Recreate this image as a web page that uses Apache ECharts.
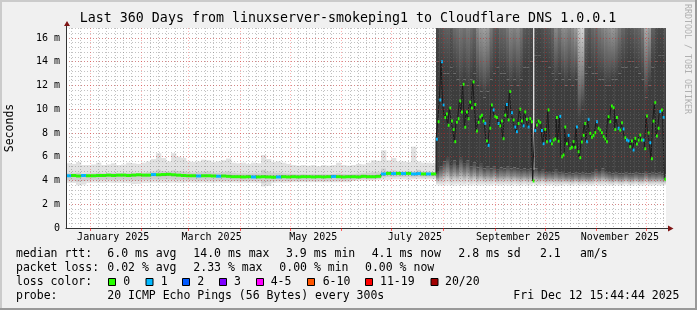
<!DOCTYPE html>
<html>
<head>
<meta charset="utf-8">
<script src="https://cdn.jsdelivr.net/npm/echarts@6.0.0/dist/echarts.min.js"></script>
<style>
html,body{margin:0;padding:0;background:#f0f0f0;}
#chart{width:697px;height:310px;}
</style>
</head>
<body>
<div id="chart"></div>
<script>
const FONT = '"DejaVu Sans Mono", monospace';
const START = Date.UTC(2024, 11, 17, 15, 44, 44);
const DAY = 86400000;
const SPAN = 360;
const Y_TOP = 16.84;
function dayOf(y, m, d) { return (Date.UTC(y, m, d) - START) / DAY; }

// ---- period 1: 3-day samples from day 0 ----
const P1_STEP = 3;
const p1Median = [4.40,4.42,4.38,4.42,4.40,4.40,4.42,4.42,4.45,4.42,
 4.45,4.45,4.42,4.45,4.48,4.45,4.45,4.50,4.48,4.50,
 4.52,4.48,4.45,4.42,4.40,4.40,4.38,4.40,4.40,4.38,
 4.36,4.38,4.35,4.32,4.32,4.30,4.32,4.30,4.30,4.32,
 4.30,4.28,4.30,4.32,4.30,4.32,4.30,4.32,4.32,4.30,
 4.32,4.30,4.32,4.34,4.32,4.30,4.32,4.32,4.30,4.35,
 4.32,4.32,4.35,4.55,4.60,4.58,4.60,4.58,4.60,4.55,
 4.58,4.55,4.55,4.55];
const p1Loss = [1,0,0,1,0,0,0,0,0,0, 0,0,0,0,0,0,0,1,0,0, 0,0,0,0,0,0,1,0,0,0,
 1,0,0,0,0,0,0,1,0,0, 0,0,1,0,0,0,0,0,0,0, 0,0,0,1,0,0,0,0,0,0,
 0,0,0,1,0,1,0,1,0,1, 1,0,1,0];
const p1SmokeLo = [3.80,3.80,3.60,3.65,3.80,3.82,3.80,3.80,3.82,3.80,
 3.80,3.80,3.78,3.70,3.72,3.80,3.80,3.82,3.80,3.80,
 3.80,3.82,3.80,3.80,3.82,3.80,3.80,3.82,3.80,3.80,
 3.82,3.80,3.80,3.82,3.80,3.82,3.80,3.80,3.78,3.50,
 3.55,3.80,3.82,3.80,3.82,3.85,3.85,3.85,3.85,3.85,
 3.85,3.85,3.85,3.85,3.85,3.85,3.85,3.95,4.00,4.00,
 4.00,4.00,4.05,4.05,4.05,4.10,4.10,4.10,4.05,4.10,
 4.10,4.10,4.10,4.10];
const p1SmokeInLo = [4.02,4.00,3.90,3.95,4.02,4.05,4.02,4.05,4.05,4.02,
 4.05,4.05,4.02,4.00,4.00,4.05,4.05,4.08,4.05,4.08,
 4.08,4.05,4.05,4.05,4.02,4.02,4.00,4.02,4.02,4.00,
 4.00,4.00,4.00,3.98,3.98,3.95,3.98,3.95,3.95,3.80,
 3.85,3.95,3.98,3.98,3.95,3.98,3.98,3.98,4.00,3.98,
 4.00,3.98,4.00,4.00,4.00,3.98,4.00,4.05,4.10,4.10,
 4.10,4.10,4.12,4.25,4.30,4.28,4.30,4.28,4.28,4.25,
 4.28,4.25,4.25,4.25];
const p1SmokeInHi = [4.60,4.60,4.65,4.55,4.58,4.60,4.65,4.60,4.62,4.65,
 4.60,4.62,4.65,4.65,4.62,4.65,4.70,4.75,4.90,4.80,
 4.75,4.85,4.80,4.75,4.70,4.65,4.70,4.75,4.75,4.65,
 4.65,4.70,4.75,4.65,4.60,4.60,4.58,4.60,4.60,4.90,
 4.75,4.65,4.65,4.60,4.58,4.55,4.52,4.55,4.52,4.55,
 4.52,4.55,4.52,4.55,4.60,4.55,4.52,4.55,4.58,4.60,
 4.65,4.70,4.70,5.00,4.80,4.85,4.75,4.75,4.75,4.75,
 4.90,4.75,4.75,4.70];
const p1SmokeHi = [5.45,5.40,5.55,5.30,5.30,5.35,5.50,5.30,5.35,5.45,
 5.30,5.35,5.50,5.45,5.40,5.50,5.60,5.80,6.30,5.90,
 5.60,6.30,6.00,5.90,5.60,5.55,5.60,5.75,5.70,5.55,
 5.60,5.70,5.85,5.50,5.45,5.50,5.40,5.50,5.45,6.15,
 5.80,5.55,5.60,5.50,5.40,5.30,5.25,5.30,5.25,5.30,
 5.20,5.30,5.25,5.30,5.50,5.30,5.25,5.30,5.40,5.35,
 5.50,5.70,5.65,6.55,5.70,5.90,5.60,5.60,5.55,6.85,
 5.60,5.50,5.50,5.45];

// ---- period 2: daily medians from day 222 ----
const P2_FIRST = 222;
const p2Median = [7.47,8.95,10.78,14.0,10.36,9.3,9.6,8.65,10.1,9.0,
 8.3,7.27,8.9,9.2,10.7,9.77,12.1,8.48,9.77,9.2,
 10.6,10.1,12.3,10.4,8.17,8.9,9.35,9.5,9.0,8.8,
 7.33,6.96,8.4,10.36,9.94,9.4,9.3,8.8,8.6,9.0,
 7.52,9.5,10.4,9.1,11.5,9.7,9.1,8.5,8.1,8.8,
 10.0,9.0,8.6,9.77,9.15,8.5,9.2,8.95,3.96,8.2,
 8.67,9.0,8.87,8.2,7.1,8.3,7.27,9.94,7.33,7.1,
 7.4,7.5,9.3,7.3,9.4,6.0,6.15,8.5,7.1,7.8,
 6.7,6.8,7.27,6.8,8.5,6.42,5.92,7.24,7.8,8.8,
 7.27,9.15,7.97,7.64,7.8,8.03,8.95,8.4,8.25,8.03,
 7.69,7.5,7.27,9.37,8.95,10.27,10.13,8.3,9.3,8.4,
 8.25,8.87,8.34,7.6,7.4,7.33,6.85,7.33,6.57,7.55,
 7.07,7.4,7.83,7.4,7.4,6.68,9.43,8.0,7.18,5.84,
 9.0,10.55,7.75,8.4,9.8,9.94,9.3,4.1];
const p2Loss = [1,0,1,1,1,0,0,0,0,0, 0,0,0,0,0,0,0,0,0,0, 0,0,0,0,0,0,0,0,0,1,
 0,1,0,0,1,0,0,1,0,0, 0,0,1,0,0,1,0,1,1,0, 0,0,1,0,0,1,0,0,0,1,
 0,0,0,1,1,0,0,0,1,0, 0,0,0,0,1,0,0,0,0,1, 0,0,0,0,1,0,0,0,0,0,
 1,1,0,0,0,0,1,0,0,0, 0,0,0,0,0,0,0,0,0,1, 0,0,1,0,1,1,0,0,1,0,
 0,0,0,0,1,0,0,0,1,0, 0,0,0,0,1,0,1,0];
// smoke buckets for period 2 (start day of each bucket)
const p2SmokeDays = [222,224,226,228,230,232,234,236,238,240,242,244,246,248,250,252,254,256,258,260,
 262,264,266,268,270,272,274,276,278,280,281,283,285,287,289,291,293,295,297,299,
 301,303,305,307,309,311,313,315,317,319,321,323,325,327,329,331,333,335,337,339,
 341,343,345,347,349,351,353,355,357,359];
const p2SmokeLo = [3.60,3.55,3.55,3.60,3.55,3.55,3.60,3.55,3.55,3.60, 3.55,3.60,3.55,3.55,3.60,3.55,3.55,3.60,3.55,3.55,
 3.60,3.55,3.55,3.60,3.55,3.55,3.60,3.55,3.55,3.65, 3.55,3.55,3.60,3.55,3.55,3.60,3.50,3.55,3.55,3.60,
 3.55,3.55,3.60,3.55,3.55,3.60,3.55,3.55,3.60,3.55, 3.55,3.60,3.55,3.55,3.60,3.55,3.55,3.60,3.55,3.55,
 3.60,3.55,3.55,3.60,3.55,3.55,3.60,3.55,3.55,3.60];
const p2SmokeDarkLo = [4.8,5.2,5.6,5.9,5.3,5.7,5.3,5.9,5.4,5.7, 5.2,5.5,5.1,5.4,5.0,5.2,5.0,5.2,4.9,5.1,
 5.0,5.2,5.0,5.1,5.0,4.9,5.0,4.9,5.0,4.9, 5.0,4.8,4.9,4.7,4.8,4.7,4.9,4.7,4.8,4.6,
 4.7,4.6,4.7,4.6,4.7,4.6,4.6,4.7,4.9,4.8, 5.0,4.8,4.7,4.6,4.7,4.6,4.6,4.7,4.6,4.6,
 4.7,4.6,4.6,4.8,4.6,4.7,4.6,4.7,4.6,4.5];
const p2SmokeDarkHi = [14.0,13.5,13.0,13.0,13.5,13.0,12.5,12.0,12.5,12.0, 12.5,13.0,12.0,11.5,11.0,11.5,12.5,13.0,13.5,13.0,
 13.0,12.5,12.0,12.5,12.0,12.5,13.5,13.5,14.0,null, 14.5,14.5,14.0,14.0,13.5,13.0,12.5,13.0,12.5,12.0,
 12.5,12.0,12.5,9.0,10.0,13.0,13.5,13.0,13.0,12.5, 12.5,12.0,12.0,12.5,12.5,13.0,13.5,13.5,14.0,14.0,
 13.5,13.0,12.5,11.0,12.0,13.5,14.0,14.5,14.5,14.0];
const p2SmokeTopGray = [74,85,94,96,85,106,112,119,112,122, 112,102,136,153,160,153,119,96,90,102,
 106,119,136,128,136,119,90,85,80,null, 74,74,80,85,90,102,136,119,138,136,
 128,138,153,200,212,102,90,102,106,119, 128,136,144,153,138,119,102,90,85,90,
 96,102,119,170,153,96,80,74,74,85];

const lossColors = ['#26ff00','#00b8ff','#0059ff','#7e00ff','#ff00ff','#ff5500','#ff0000','#a10000'];
const lossLabels = ['0','1','2','3','4-5','6-10','11-19','20/20'];
const yTicks = [0,2,4,6,8,10,12,14,16];
const yMinor = []; for (let i = 1; i <= 42; i++) yMinor.push(+(i * 0.4).toFixed(1));
const xTickLabels = ['January 2025','March 2025','May 2025','July 2025','September 2025','November 2025'];
const xTickPos = [0,2,4,6,8,10].map(m => dayOf(2025, m, 15));
const monthStarts = []; for (let m = 0; m < 12; m++) monthStarts.push(dayOf(2025, m, 1));
const minorDays = [];
for (let m = -1; m < 12; m++) for (const d of [6,11,16,21,26]) { const v = dayOf(2025, m, d); if (v > 0 && v < SPAN) minorDays.push(v); }

function rectAt(api, x0, x1, y0, y1, extra) {
  const a = api.coord([x0, y1]), b = api.coord([x1, y0]);
  return {x: a[0], y: a[1], width: b[0] - a[0] + (extra || 0), height: b[1] - a[1]};
}
function grad(stops) {
  return new echarts.graphic.LinearGradient(0, 0, 0, 1, stops.map(s => ({offset: s[0], color: s[1]})));
}
function gray(g) { const h = g.toString(16).padStart(2, '0'); return '#' + h + h + h; }

const p1Items = p1Median.map((v, k) => [k * P1_STEP, (k + 1) * P1_STEP, p1SmokeLo[k], p1SmokeHi[k]]);
const p2Items = p2SmokeDays.map((d, i) => [d, i + 1 < p2SmokeDays.length ? p2SmokeDays[i + 1] : SPAN, p2SmokeLo[i], p2SmokeDarkLo[i]]);
const medianItems = p1Median.map((v, k) => [k * P1_STEP, (k + 1) * P1_STEP, v, p1Loss[k]])
  .concat(p2Median.map((v, i) => [P2_FIRST + i, P2_FIRST + i + 1, v, p2Loss[i]]));
const stepPts = medianItems.map(it => [it[0], it[2]]);
stepPts.push([SPAN, medianItems[medianItems.length - 1][2]]);

const legendRows = [
  [[16,'median rtt:'],[107.3,'6.0 ms avg'],[193.3,'14.0 ms max'],[286,'3.9 ms min'],[371.7,'4.1 ms now'],[458.3,'2.8 ms sd'],[540,'2.1'],[580,'am/s']],
  [[16,'packet loss:'],[107.3,'0.02 % avg'],[193.3,'2.33 % max'],[279.3,'0.00 % min'],[365,'0.00 % now']],
  [[16,'loss color:']],
  [[16,'probe:'],[107.3,'20 ICMP Echo Pings (56 Bytes) every 300s'],[513.3,'Fri Dec 12 15:44:44 2025']]
];
const rowY = [253.8, 267.8, 281.8, 295.8];
const boxX = [108, 145.5, 182, 219, 256, 307, 365, 430.5];
const boxLabelX = [123.3, 160.7, 197.3, 234, 270.7, 322.7, 380, 445];

const gfx = [];
// frame
gfx.push({type:'rect', shape:{x:0,y:0,width:697,height:2}, style:{fill:'#cbcbcb'}, silent:true});
gfx.push({type:'rect', shape:{x:0,y:0,width:2,height:310}, style:{fill:'#cbcbcb'}, silent:true});
gfx.push({type:'rect', shape:{x:695,y:0,width:2,height:310}, style:{fill:'#999999'}, silent:true});
gfx.push({type:'rect', shape:{x:0,y:308,width:697,height:2}, style:{fill:'#999999'}, silent:true});
// title
gfx.push({type:'text', x:348, y:19, silent:true, style:{text:'Last 360 Days from linuxserver-smokeping1 to Cloudflare DNS 1.0.0.1', fontFamily:FONT, fontSize:13.3, fill:'#000', align:'center', verticalAlign:'middle'}});
// y axis title
gfx.push({type:'text', x:10, y:128, rotation:Math.PI/2, silent:true, style:{text:'Seconds', fontFamily:FONT, fontSize:11.5, fill:'#000', align:'center', verticalAlign:'middle'}});
// watermark
gfx.push({type:'text', x:687, y:59, rotation:-Math.PI/2, silent:true, style:{text:'RRDTOOL / TOBI OETIKER', fontFamily:FONT, fontSize:8.3, fill:'#b0b0b0', align:'center', verticalAlign:'middle'}});
// axis arrows
gfx.push({type:'line', shape:{x1:66.5,y1:28,x2:66.5,y2:24}, style:{stroke:'#333',lineWidth:1}, silent:true, z:10});
gfx.push({type:'polygon', shape:{points:[[67,21],[64,26],[70,26]]}, style:{fill:'#7f1515'}, silent:true, z:10});
gfx.push({type:'line', shape:{x1:666,y1:228.5,x2:669,y2:228.5}, style:{stroke:'#333',lineWidth:1}, silent:true, z:10});
gfx.push({type:'polygon', shape:{points:[[673.5,228.5],[668,225.5],[668,231.5]]}, style:{fill:'#7f1515'}, silent:true, z:10});
// legend texts
legendRows.forEach((row, r) => row.forEach(([x, t]) => gfx.push({type:'text', x:x, y:rowY[r], silent:true,
  style:{text:t, fontFamily:FONT, fontSize:11.5, fill:'#000', align:'left', verticalAlign:'middle'}})));
lossColors.forEach((c, i) => {
  gfx.push({type:'rect', shape:{x:boxX[i]+0.5, y:278.5, width:7, height:7}, style:{fill:c, stroke:'#000', lineWidth:1}, silent:true});
  gfx.push({type:'text', x:boxLabelX[i], y:rowY[2], silent:true, style:{text:lossLabels[i], fontFamily:FONT, fontSize:11.5, fill:'#000', align:'left', verticalAlign:'middle'}});
});

const GRID_RED = 'rgba(255,0,0,0.3)';
const GRID_GRAY = 'rgba(110,110,110,0.42)';
const option = {
  backgroundColor: '#f0f0f0',
  animation: false,
  grid: {left:66, top:28, width:600, height:200, show:true, backgroundColor:'#ffffff', borderWidth:0,
         containLabel:false, outerBoundsMode:'none'},
  xAxis: [
    {type:'value', min:0, max:SPAN, z:6, position:'bottom',
     axisLine:{show:true, onZero:false, lineStyle:{color:'#333', width:1}},
     axisTick:{show:true, customValues:monthStarts, length:3, lineStyle:{color:'rgba(255,0,0,0.6)'}},
     axisLabel:{show:true, customValues:xTickPos, fontFamily:FONT, fontSize:10, color:'#000', margin:4,
       formatter:(v) => { let bi = 0; xTickPos.forEach((p, i) => { if (Math.abs(p - v) < Math.abs(xTickPos[bi] - v)) bi = i; }); return xTickLabels[bi]; }},
     splitLine:{show:true, lineStyle:{color:GRID_RED, type:[1,2], width:1}}},
    {type:'value', min:0, max:SPAN, z:5, position:'top',
     axisLine:{show:false}, axisTick:{show:false, customValues:minorDays}, axisLabel:{show:false},
     splitLine:{show:true, lineStyle:{color:GRID_GRAY, type:[1,2], width:1}}}
  ],
  yAxis: [
    {type:'value', min:0, max:Y_TOP, z:6, position:'left',
     axisLine:{show:true, lineStyle:{color:'#333', width:1}},
     axisTick:{show:false, customValues:yTicks},
     axisLabel:{customValues:yTicks, formatter:(v) => v === 0 ? '0' : v + ' m', fontFamily:FONT, fontSize:10, color:'#000', margin:6},
     splitLine:{show:true, lineStyle:{color:GRID_RED, type:[1,2], width:1}}},
    {type:'value', min:0, max:Y_TOP, z:5, position:'right',
     axisLine:{show:false}, axisTick:{show:false, customValues:yMinor}, axisLabel:{show:false},
     splitLine:{show:true, lineStyle:{color:GRID_GRAY, type:[1,2], width:1}}}
  ],
  graphic: {elements: gfx},
  series: [
    {type:'custom', name:'smoke1', z:1, clip:true, silent:true, xAxisIndex:0, yAxisIndex:0,
     data:p1Items, encode:{x:[0,1], y:[2,3]},
     renderItem(params, api) {
       const k = params.dataIndex, x0 = api.value(0), x1 = api.value(1);
       return {type:'group', children:[
         {type:'rect', shape:rectAt(api, x0, x1, p1SmokeLo[k], p1SmokeHi[k], 0.3), style:{fill:'#e2e2e2'}},
         {type:'rect', shape:rectAt(api, x0, x1, p1SmokeInLo[k], p1SmokeInHi[k], 0.3), style:{fill:'#cdcdcd'}}
       ]};
     }},
    {type:'custom', name:'smoke2', z:1, clip:true, silent:true, xAxisIndex:0, yAxisIndex:0,
     data:p2Items, encode:{x:[0,1], y:[2,3]},
     renderItem(params, api) {
       const i = params.dataIndex, x0 = api.value(0), x1 = api.value(1);
       const lo = p2SmokeLo[i], dLo = p2SmokeDarkLo[i], dHi = p2SmokeDarkHi[i];
       const ch = [{type:'rect', shape:rectAt(api, x0, x1, lo, dLo, 0.5),
         style:{fill:grad([[0,'#444444'],[0.45,'#8a8a8a'],[0.75,'#cfcfcf'],[1,'#f4f4f4']])}}];
       if (dHi != null) {
         ch.push({type:'rect', shape:rectAt(api, x0, x1, dLo, dHi, 0.5), style:{fill:'#3d3d3d'}});
         ch.push({type:'rect', shape:rectAt(api, x0, x1, dHi, Y_TOP, 0.5), style:{fill:grad([[0, gray(p2SmokeTopGray[i])], [1, '#3d3d3d']])}});
       }
       return {type:'group', children:ch};
     }},
    {type:'line', name:'median', step:'end', data:stepPts, showSymbol:false, z:2, silent:true,
     lineStyle:{color:'#1a1a1a', width:1}},
    {type:'custom', name:'median loss', z:3, clip:true, silent:true,
     data:medianItems, encode:{x:[0,1], y:2},
     renderItem(params, api) {
       const x0 = api.value(0), x1 = api.value(1), v = api.value(2), c = api.value(3);
       const a = api.coord([x0, v]), b = api.coord([x1, v]);
       return {type:'rect', shape:{x:a[0], y:a[1] - 1.5, width:b[0] - a[0] + 0.2, height:3}, style:{fill:lossColors[c]}};
     }}
  ]
};
const chart = echarts.init(document.getElementById('chart'), null, {renderer:'canvas'});
chart.setOption(option);
</script>
</body>
</html>
